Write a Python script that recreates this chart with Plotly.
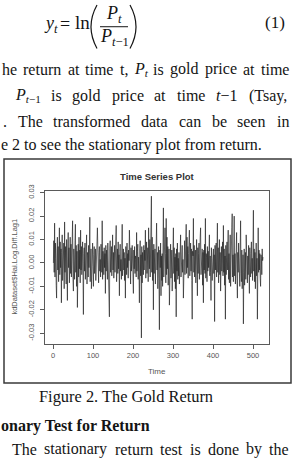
import plotly.graph_objects as go

# ---------------- data (returns in units of 1e-4) ----------------
returns_e4 = [
    0, 95, -40, 170, -60, 85, 20, -95, -150, 60, 110, -30, 70, -80, 40, 150, -50, 90, -20, 60, -170, 45, 120, -75, 30,
    -60, 85, -110, 175, -40, 70, 25, -90, 100, -35, -160, 55, 130, -20, 65, -85, 40, 110, -45, 80, -60, 30, 95, 180, -70,
    -120, 60, 20, -70, 95, 165, -40, 75, -100, 50, -190, 35, 80, -60, 110, -25, 55, -85, 140, -30, 70, -50, 25, 90, -45,
    -220, 40, 65, -35, 85, -70, 15, 50, 120, -90, 45, 30, -60, 75, -20, 55, 195, -80, 25, 60, -110, 40, -30, 85, -15,
    -100, 35, 70, -45, 20, 60, -75, 40, -25, 90, 150, -55, 30, -85, 45, 70, -35, 15, -60, 80, 25, -40, 180, -70, 50,
    30, -50, 65, -20, 40, -130, 75, -35, 55, 10, -70, 85, -25, 45, -60, -230, 60, 95, -40, 25, 70, -55, 35, 120, -30,
    45, -65, 20, 75, -40, 55, -15, 160, -80, 30, 60, -45, 90, -25, 35, -140, 50, 80, -35, 15, -70, 40, 165, -55, 25,
    60, -30, 45, -75, 20, -150, 70, 35, -50, 85, -20, 40, -65, 55, 10, 140, -45, 30, -90, 65, -35, 20, 75, -60, 40,
    -130, 55, -25, 70, -45, 30, 15, -60, 130, -35, 50, 80, -70, 25, -40, -170, 60, 95, -55, 35, -320, 70, -85, 45, 20,
    -50, 75, -30, 55, 10, 140, -65, 40, 90, -45, 25, 65, -80, 150, 35, -25, 100, -60, 120, 70, 285, -40, 110, -75, 55,
    -200, 80, -45, 25, 60, -90, 35, -55, 170, -30, 45, -110, 20, 70, -65, -285, 55, -20, 85, -140, 30, -75, 40, -100, 15,
    235, -60, 95, -35, 150, 40, -85, 190, -50, 110, -25, 70, -95, 35, 60, -180, 45, -30, 80, -65, 20, 55, -120, 30, -40,
    150, -45, 65, -80, 25, -110, 40, -230, 60, -35, 85, -70, 20, -55, 45, -90, 30, 10, 120, -60, 50, -25, 75, -40, 15,
    -150, 60, -30, 95, -50, 35, 80, 165, -45, 110, -20, 70, -65, 40, 90, 140, -55, 25, 85, -35, 60, -75, -240, 50, 30,
    190, -40, 75, -60, 30, 55, -85, 20, 100, -30, -140, 65, -45, 40, 85, -70, 25, 110, 150, -50, 35, -25, 60, -95, 45,
    -170, 55, -30, 80, -45, 190, -65, 40, 25, -80, 70, -35, 50, -20, 95, 120, -55, 30, -40, -160, 65, 20, -75, 45, -30,
    60, -45, 35, -250, 75, -30, 55, 85, -60, 20, 170, -40, 65, -85, 30, 100, -50, 45, -120, 25, 70, -35, 15, 90, -55,
    160, -40, 60, -95, 30, -240, 75, -50, 25, 90, -30, 55, 140, -70, 40, -85, 20, 120, -100, 65, -45, 150, 210, -60, 35,
    -80, 110, 200, -55, 40, -90, 70, -35, 130, -65, -150, 45, -40, 85, -75, 30, -100, 60, 180, -45, -80, 55, -110, -60, 35,
    -260, -40, 60, -95, -30, 45, -70, 120, -20, 55, -85, 30, -50, 75, -35, -130, 65, 25, -60, 40, 90, -45, 20, -75, 50,
    225, -35, 60, -80, 45, -110, 30, 85, -55, 20, -240, 70, 150, -40, 55, -30, 40, -65, -100, 35, 20, -50, 60, 10, 25,
]
time_index = list(range(1, len(returns_e4) + 1))
returns = [v / 10000 for v in returns_e4]

x_tick_vals = [0, 100, 200, 300, 400, 500]
x_tick_text = ["0", "100", "200", "300", "400", "500"]
y_tick_vals = [-0.03, -0.02, -0.01, 0.0, 0.01, 0.02, 0.03]
y_tick_text = ["-0.03", "-0.02", "-0.01", "0.00", "0.01", "0.02", "0.03"]

chart_title = "Time Series Plot"
x_title = "Time"
y_title = "kdDataset$Hai.Log.Diff.Lag1"
caption = "Figure 2. The Gold Return"

# ---------------- layout helpers (page pixels -> paper coords) ----------------
W, H = 293, 461
def px(x):
    return x / W
def py(y):
    return 1 - y / H

SERIF = "Liberation Serif, serif"
SANS = "Liberation Sans, Arial, sans-serif"
TXT = "#141414"

# Times-like advance widths (per 1000 em) used only to justify the text lines
CW = {'a': 444, 'b': 500, 'c': 444, 'd': 500, 'e': 444, 'f': 333, 'g': 500, 'h': 500, 'i': 278,
      'k': 500, 'l': 278, 'm': 778, 'n': 500, 'o': 500, 'p': 500, 'r': 333, 's': 389, 't': 278,
      'u': 500, 'y': 500, 'T': 611, 'P': 611, ' ': 250, '.': 250, ',': 250, '(': 333, ')': 333,
      '1': 500, '2': 500}
def em(s):
    return sum(CW.get(c, 500) for c in s) / 1000

fig = go.Figure()
fig.add_trace(go.Scatter(
    x=time_index, y=returns, mode="lines",
    line=dict(color="rgba(35,35,35,0.85)", width=0.8),
    hoverinfo="skip",
))

axis_common = dict(
    showline=True, mirror=True, linecolor="#5a5a5a", linewidth=1,
    ticks="outside", ticklen=4, tickcolor="#5a5a5a", tickwidth=1,
    showgrid=False, zeroline=False, fixedrange=True,
    tickfont=dict(family=SANS, size=7.5, color="#555"),
)

fig.update_layout(
    width=W, height=H,
    margin=dict(l=0, r=0, t=0, b=0),
    paper_bgcolor="white", plot_bgcolor="white",
    showlegend=False,
    xaxis=dict(domain=[px(45), px(269)], range=[-20, 540],
               tickvals=x_tick_vals, ticktext=x_tick_text, **axis_common),
    yaxis=dict(domain=[py(342), py(187)], range=[-0.0344, 0.0309],
               tickvals=y_tick_vals, ticktext=y_tick_text, tickangle=-90,
               ticklabelstandoff=3, **axis_common),
)

ann = []
def text(x, y, s, size=16, anchor="left", family=SERIF, color=TXT, angle=0):
    ann.append(dict(x=px(x), y=py(y), xref="paper", yref="paper", text=s, showarrow=False,
                    xanchor=anchor, yanchor="middle", textangle=angle,
                    font=dict(family=family, size=size, color=color)))

def justify(words, x0, x1, y, size=16):
    """words: list of (html, plain-width-proxy or em float)"""
    widths = [(w if isinstance(w, float) else em(w)) * size for _, w in words]
    gap = (x1 - x0 - sum(widths)) / (len(words) - 1)
    x = x0
    for (s, _), w in zip(words, widths):
        text(x, y, s, size)
        x += w + gap

P_t = "<i>P</i><sub><i>t</i></sub>"
P_t1 = "<i>P</i><sub><i>t</i>−1</sub>"

# equation
text(42, 19, "<i>y</i><sub><i>t</i></sub>", size=18)
text(65, 18, "=", size=18, anchor="center")
text(73, 17, "ln", size=19)
text(114, 9, P_t, size=18, anchor="center")
text(114, 32, P_t1, size=18, anchor="center")
text(287, 17, "(1)", size=17, anchor="right")

# paragraph lines (justified)
justify([("he", "he"), ("return", "return"), ("at", "at"), ("time", "time"), ("t,", "t,"),
         (P_t, 0.81), ("is", "is"), ("gold", "gold"), ("price", "price"), ("at", "at"), ("time", "time")],
        0, 287, 64)
justify([(P_t1, 1.55), ("is", "is"), ("gold", "gold"), ("price", "price"), ("at", "at"), ("time", "time"),
         ("<i>t</i>−1", 1.34), ("(Tsay,", "(Tsay,")],
        13, 287, 91)
justify([(".", "."), ("The", "The"), ("transformed", "transformed"), ("data", "data"), ("can", "can"),
         ("be", "be"), ("seen", "seen"), ("in", "in")],
        1, 287, 117)
text(-1, 141, "e 2 to see the stationary plot from return.", size=16)

# chart texts
text(157, 173, "<b>" + chart_title + "</b>", size=9.5, anchor="center", family=SANS, color="#333")
text(157, 370, x_title, size=8, anchor="center", family=SANS, color="#555")
text(15, 264, y_title, size=7.5, anchor="center", family=SANS, color="#555", angle=-90)

# caption and following text
text(37, 396, caption, size=16.4)
text(-1, 426, "<b>onary Test for Return</b>", size=16)
justify([("The", "The"), ("stationary", "stationary"), ("return", "return"), ("test", "test"),
         ("is", "is"), ("done", "done"), ("by", "by"), ("the", "the")],
        10, 287, 449)

fig.update_layout(annotations=ann)

shapes = [
    # outer frame of the figure image
    dict(type="rect", xref="paper", yref="paper", x0=px(4), x1=px(291), y0=py(382), y1=py(155),
         line=dict(color="#3a3a3a", width=1.5)),
    # fraction bar
    dict(type="line", xref="paper", yref="paper", x0=px(100), x1=px(128), y0=py(21), y1=py(21),
         line=dict(color=TXT, width=1)),
    # big parentheses
    dict(type="path", xref="paper", yref="paper",
         path=f"M {px(97)},{py(-1)} Q {px(85)},{py(21)} {px(97)},{py(43)}",
         line=dict(color=TXT, width=1.2)),
    dict(type="path", xref="paper", yref="paper",
         path=f"M {px(130)},{py(-1)} Q {px(142)},{py(21)} {px(130)},{py(43)}",
         line=dict(color=TXT, width=1.2)),
]
fig.update_layout(shapes=shapes)

fig.write_html("out.html")
